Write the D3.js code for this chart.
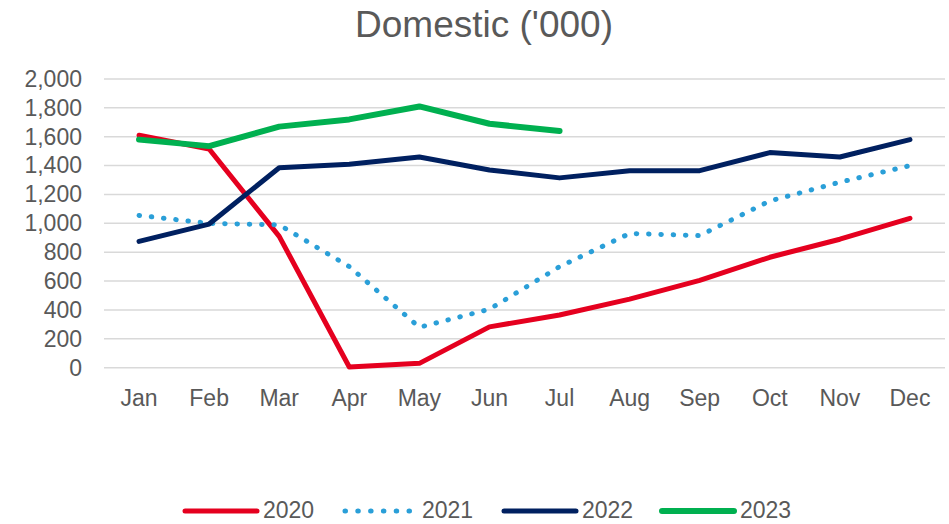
<!DOCTYPE html>
<html>
<head>
<meta charset="utf-8">
<script src="https://cdn.jsdelivr.net/npm/d3@7"></script>
<style>
  body { margin: 0; background: #fff; }
  text { font-family: "Liberation Sans", Arial, sans-serif; fill: #595959; }
</style>
</head>
<body>
<div id="chart"></div>
<script>
// monthly domestic figures ('000)
var months = ["Jan", "Feb", "Mar", "Apr", "May", "Jun", "Jul", "Aug", "Sep", "Oct", "Nov", "Dec"];
var yTicks = [0, 200, 400, 600, 800, 1000, 1200, 1400, 1600, 1800, 2000];

var y2020 = [1610, 1515, 910, 5, 30, 283, 365, 475, 605, 765, 890, 1035];
var y2021 = [1055, 1000, 990, 700, 280, 405, 700, 930, 915, 1155, 1285, 1400];
var y2022 = [875, 995, 1385, 1410, 1460, 1370, 1315, 1365, 1365, 1490, 1460, 1580];
var y2023 = [1580, 1535, 1670, 1720, 1810, 1690, 1640];

var seriesNames = ["2020", "2021", "2022", "2023"];
var seriesValues = [y2020, y2021, y2022, y2023];
var seriesColors = ["#e5001f", "#2a9fd8", "#002060", "#00b050"];

var width = 949, height = 524;
var margin = {left: 104, right: 4, top: 79, bottom: 156};
var fontFam = "'Liberation Sans', Arial, sans-serif";

var svg = d3.select("#chart").append("svg")
    .attr("width", width)
    .attr("height", height);

var x = d3.scaleBand()
    .domain(months)
    .range([margin.left, width - margin.right]);

var y = d3.scaleLinear()
    .domain([0, 2000])
    .range([height - margin.bottom - 0.3, margin.top]);

// title
svg.append("text")
    .attr("x", 484)
    .attr("y", 37)
    .attr("text-anchor", "middle")
    .style("font-size", "37px")
    .text("Domestic ('000)");

// gridlines
svg.selectAll("line.grid")
    .data(yTicks)
    .enter()
    .append("line")
      .attr("class", "grid")
      .attr("x1", margin.left)
      .attr("x2", width - margin.right)
      .attr("y1", function(d) { return y(d); })
      .attr("y2", function(d) { return y(d); })
      .attr("stroke", "#d9d9d9")
      .attr("stroke-width", 1.5);

// y axis labels
var yAxis = d3.axisLeft(y)
    .tickValues(yTicks)
    .tickSize(0)
    .tickPadding(22)
    .tickFormat(d3.format(","));

svg.append("g")
    .attr("transform", "translate(" + margin.left + ",0)")
    .call(yAxis)
    .call(function(g) { g.select(".domain").remove(); })
    .selectAll("text")
      .style("font-size", "23px")
      .style("font-family", fontFam)
      .attr("fill", "#595959");

// x axis labels
var xAxis = d3.axisBottom(x).tickSize(0).tickPadding(22);

svg.append("g")
    .attr("transform", "translate(0," + y(0) + ")")
    .call(xAxis)
    .call(function(g) { g.select(".domain").remove(); })
    .selectAll("text")
      .style("font-size", "23px")
      .style("font-family", fontFam)
      .attr("fill", "#595959");

var line = d3.line()
    .x(function(d, i) { return x(months[i]) + x.bandwidth() / 2; })
    .y(function(d) { return y(d); });

var strokeWidths = [5, 5, 5, 6];

seriesValues.forEach(function(vals, i) {
  var p = svg.append("path")
      .datum(vals)
      .attr("d", line)
      .attr("fill", "none")
      .attr("stroke", seriesColors[i])
      .attr("stroke-width", strokeWidths[i])
      .attr("stroke-linejoin", "round")
      .attr("stroke-linecap", "round");
  if (i == 1) {
    p.attr("stroke-dasharray", "0.5 11.8");
  }
});

// legend
var legendX = [185, 345, 504, 662];
var legend = svg.selectAll("g.legend")
    .data(seriesNames)
    .enter()
    .append("g")
      .attr("class", "legend")
      .attr("transform", function(d, i) { return "translate(" + legendX[i] + ",511)"; });

legend.append("line")
    .attr("x1", 0)
    .attr("x2", function(d, i) { return i == 1 ? 65 : 72; })
    .attr("stroke", function(d, i) { return seriesColors[i]; })
    .attr("stroke-width", function(d, i) { return strokeWidths[i]; })
    .attr("stroke-linecap", "round")
    .attr("stroke-dasharray", function(d, i) { return i == 1 ? "0.5 12.3" : null; });

legend.append("text")
    .attr("x", function(d, i) { return i == 1 ? 77 : 78; })
    .attr("y", 7)
    .style("font-size", "23px")
    .text(function(d) { return d; });
</script>
</body>
</html>
